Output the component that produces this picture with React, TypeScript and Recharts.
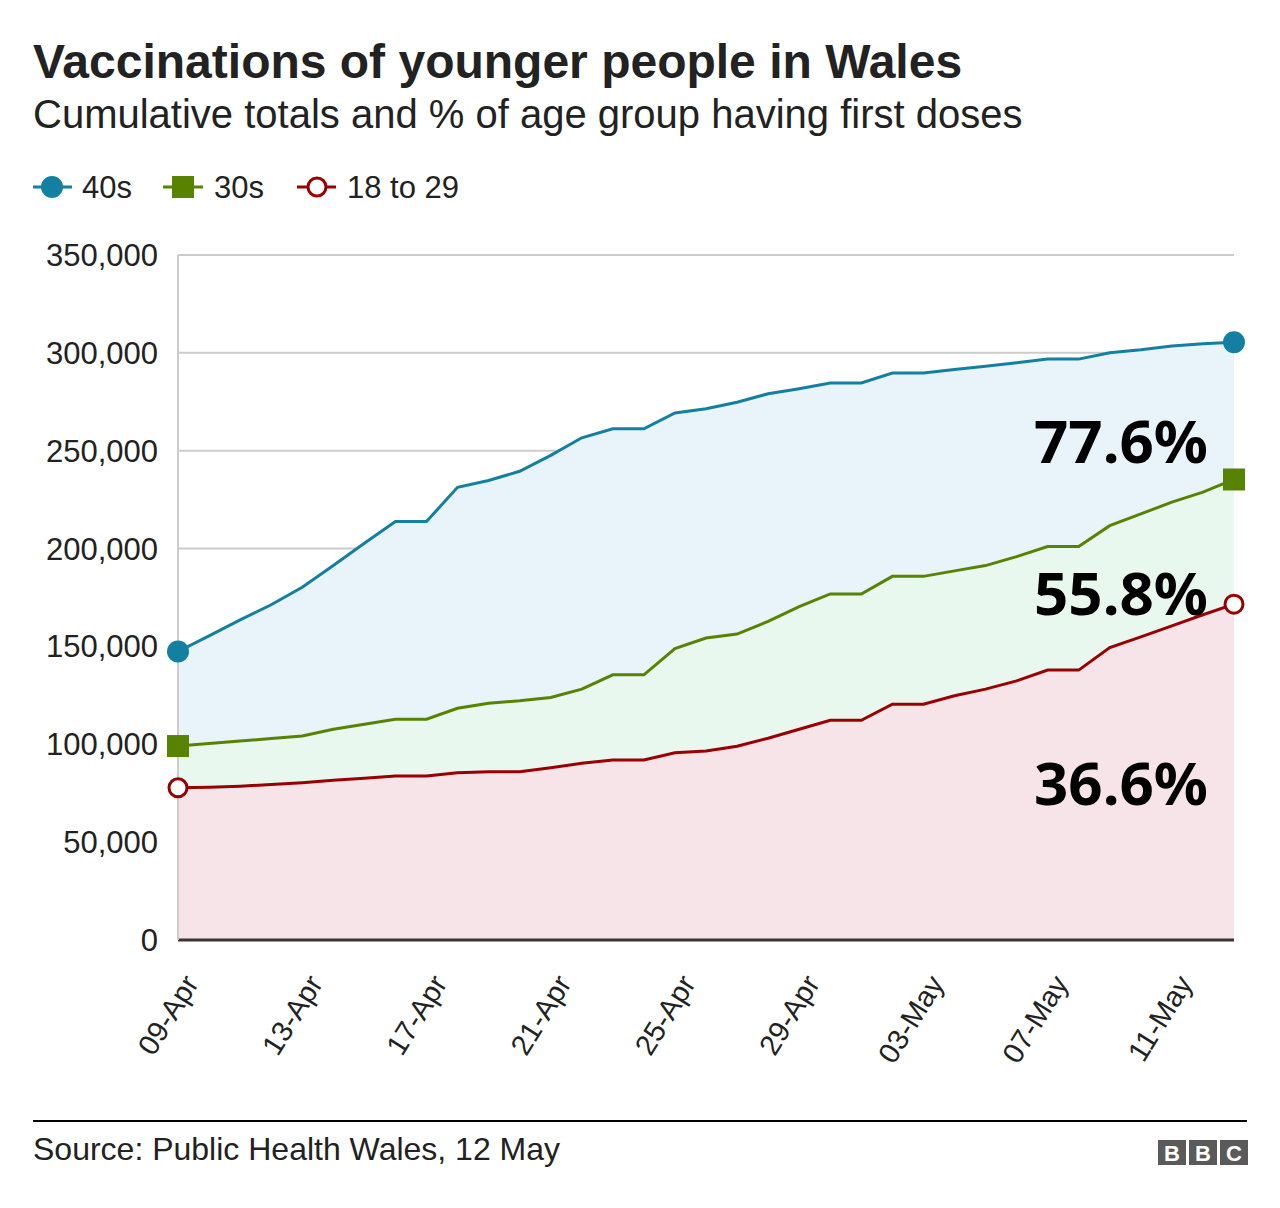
import { AreaChart, Area, XAxis, YAxis, CartesianGrid } from 'recharts';

const dates = [
  '09-Apr', '10-Apr', '11-Apr', '12-Apr', '13-Apr', '14-Apr', '15-Apr', '16-Apr', '17-Apr',
  '18-Apr', '19-Apr', '20-Apr', '21-Apr', '22-Apr', '23-Apr', '24-Apr', '25-Apr', '26-Apr',
  '27-Apr', '28-Apr', '29-Apr', '30-Apr', '01-May', '02-May', '03-May', '04-May', '05-May',
  '06-May', '07-May', '08-May', '09-May', '10-May', '11-May', '12-May', '13-May'
];

const forties = [
  147400, 155400, 163600, 171300, 180200, 191300, 202700, 213800, 213800,
  231300, 234800, 239500, 247600, 256600, 261200, 261200, 269300, 271400,
  274800, 279100, 281700, 284600, 284600, 289700, 289700, 291500, 293100,
  295000, 296800, 296800, 300100, 301600, 303500, 304700, 305400
];

const thirties = [
  99100, 100400, 101700, 102900, 104200, 107700, 110200, 112800, 112800,
  118400, 121000, 122200, 123900, 128200, 135500, 135500, 148900, 154300,
  156300, 162800, 170300, 176800, 176800, 185800, 185800, 188600, 191300,
  195900, 201000, 201000, 211700, 217700, 223700, 228800, 235300
];

const under30 = [
  77800, 78100, 78600, 79400, 80400, 81600, 82600, 83800, 83800,
  85500, 86000, 86000, 88000, 90300, 92000, 92000, 95700, 96600,
  99000, 103100, 107700, 112300, 112300, 120500, 120500, 124800, 128200,
  132400, 137900, 137900, 149400, 154900, 160500, 166200, 171600
];

const yTicks = [0, 50000, 100000, 150000, 200000, 250000, 300000, 350000];
const shareLabels = ['77.6%', '55.8%', '36.6%'];

const BLUE = '#1380a1';
const GREEN = '#588300';
const RED = '#990000';
const FONT = '"Liberation Sans", Arial, Helvetica, sans-serif';

const data = dates.map((date, i) => ({
  date,
  forties: forties[i],
  thirties: thirties[i],
  under30: under30[i],
}));

const last = dates.length - 1;
const fmt = (v: number) => String(v).replace(/\B(?=(\d{3})+(?!\d))/g, ',');

function endDot(kind: 'circle' | 'square' | 'ring') {
  return (props: any) => {
    const { cx, cy, index } = props;
    if (index !== 0 && index !== last) return <g key={`e${index}`} />;
    if (kind === 'circle') return <circle key={`e${index}`} cx={cx} cy={cy} r={11} fill={BLUE} />;
    if (kind === 'square') return <rect key={`e${index}`} x={cx - 11} y={cy - 11} width={22} height={22} fill={GREEN} />;
    return <circle key={`e${index}`} cx={cx} cy={cy} r={9} fill="#fff" stroke={RED} strokeWidth={3} />;
  };
}

function DateTick({ x, y, payload }: any) {
  return (
    <g transform={`translate(${x + 13},${y + 30})`}>
      <text transform="rotate(-58)" textAnchor="end" dy="0.35em" fontSize={29} fill="#222" fontFamily={FONT}>
        {payload.value}
      </text>
    </g>
  );
}

export default function App() {
  return (
    <div style={{ position: 'relative', width: 1280, height: 1208, background: '#fff', fontFamily: FONT }}>
      <style>{'body{margin:0}'}</style>
      <div style={{ position: 'absolute', left: 0, top: 0 }}>
        <AreaChart width={1280} height={1100} data={data} margin={{ top: 255, right: 46, bottom: 0, left: 0 }}>
          <CartesianGrid vertical={false} stroke="#cccccc" strokeWidth={2} />
          <XAxis
            dataKey="date"
            interval={3}
            tickLine={false}
            axisLine={{ stroke: '#3a3434', strokeWidth: 3 }}
            tick={<DateTick />}
            height={160}
          />
          <YAxis
            domain={[0, 350000]}
            ticks={yTicks}
            width={178}
            tickLine={false}
            axisLine={{ stroke: '#cccccc', strokeWidth: 2 }}
            tickMargin={14}
            tickFormatter={fmt}
            tick={{ fontSize: 31, fill: '#222', fontFamily: FONT }}
          />
          <Area type="linear" dataKey="forties" stroke={BLUE} strokeWidth={3} fill="#e8f3fa" fillOpacity={1}
            dot={endDot('circle')} activeDot={false} isAnimationActive={false} />
          <Area type="linear" dataKey="thirties" stroke={GREEN} strokeWidth={3} fill="#e8f8ef" fillOpacity={1}
            dot={endDot('square')} activeDot={false} isAnimationActive={false} />
          <Area type="linear" dataKey="under30" stroke={RED} strokeWidth={3} fill="#f7e4e8" fillOpacity={1}
            dot={endDot('ring')} activeDot={false} isAnimationActive={false} />
        </AreaChart>
      </div>
      <svg width={1280} height={1208} style={{ position: 'absolute', left: 0, top: 0, pointerEvents: 'none' }}>
        <text x={33} y={78} fontSize={48} fontWeight="bold" fill="#222" fontFamily={FONT}>
          Vaccinations of younger people in Wales
        </text>
        <text x={33} y={128} fontSize={40} fill="#222" fontFamily={FONT}>
          Cumulative totals and % of age group having first doses
        </text>

        <line x1={33} x2={72} y1={187} y2={187} stroke={BLUE} strokeWidth={3} />
        <circle cx={52} cy={187} r={11} fill={BLUE} />
        <text x={82} y={198} fontSize={31} fill="#222" fontFamily={FONT}>40s</text>
        <line x1={163} x2={203} y1={187} y2={187} stroke={GREEN} strokeWidth={3} />
        <rect x={172} y={176} width={22} height={22} fill={GREEN} />
        <text x={214} y={198} fontSize={31} fill="#222" fontFamily={FONT}>30s</text>
        <line x1={297} x2={336} y1={187} y2={187} stroke={RED} strokeWidth={3} />
        <circle cx={317} cy={187} r={9} fill="#fff" stroke={RED} strokeWidth={3} />
        <text x={347} y={198} fontSize={31} fill="#222" fontFamily={FONT}>18 to 29</text>

        <g fontSize={60} fontWeight="bold" fill="#000" fontFamily='"Noto Sans", "Open Sans", sans-serif' textAnchor="end">
          <text x={1208} y={463}>{shareLabels[0]}</text>
          <text x={1208} y={615}>{shareLabels[1]}</text>
          <text x={1208} y={805}>{shareLabels[2]}</text>
        </g>

        <line x1={33} x2={1247} y1={1121} y2={1121} stroke="#000" strokeWidth={2} />
        <text x={33} y={1160} fontSize={32} fill="#222" fontFamily={FONT}>
          Source: Public Health Wales, 12 May
        </text>
        <g fontSize={22} fontWeight="bold" fill="#fff" fontFamily={FONT} textAnchor="middle">
          <rect x={1158} y={1140} width={28} height={25} fill="#5a5a5a" />
          <rect x={1189} y={1140} width={28} height={25} fill="#5a5a5a" />
          <rect x={1220} y={1140} width={28} height={25} fill="#5a5a5a" />
          <text x={1172} y={1161}>B</text>
          <text x={1203} y={1161}>B</text>
          <text x={1234} y={1161}>C</text>
        </g>
      </svg>
    </div>
  );
}
